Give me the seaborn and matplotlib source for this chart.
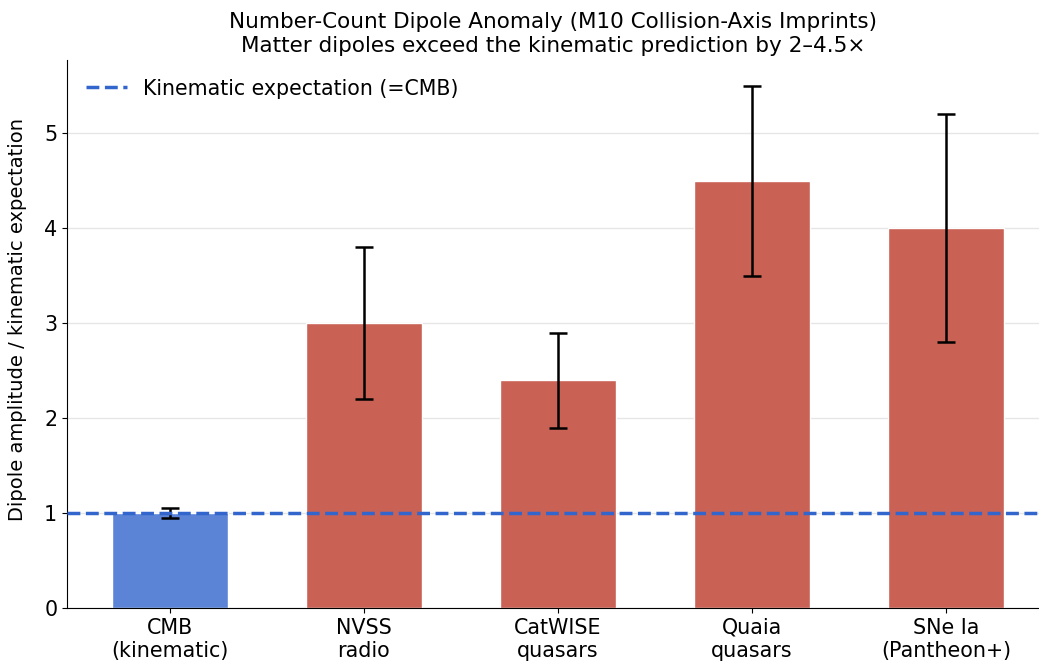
import numpy as np
import pandas as pd
from matplotlib import pyplot as plt

import seaborn as sns

samples = ["CMB\n(kinematic)", "NVSS\nradio", "CatWISE\nquasars", "Quaia\nquasars", "SNe Ia\n(Pantheon+)"]
ratio = [1.0, 3.0, 2.4, 4.5, 4.0]
ratio_err = [0.05, 0.8, 0.5, 1.0, 1.2]
bar_colors = ["#5b84d6", "#c96155", "#c96155", "#c96155", "#c96155"]
kinematic = 1.0

sns.set_style("ticks", {"axes.edgecolor": "black", "text.color": "black",
                        "xtick.color": "black", "ytick.color": "black",
                        "axes.labelcolor": "black"})
plt.rcParams["font.family"] = ["DejaVu Sans"]

fig = plt.figure(figsize=(10.39, 6.68), dpi=100)
ax = fig.add_axes([67 / 1039, 1 - 608 / 668, (1039 - 67) / 1039, (608 - 60) / 668])

df = pd.DataFrame({"sample": samples, "ratio": ratio})
sns.barplot(data=df, x="sample", y="ratio", hue="sample", palette=bar_colors,
            width=0.6, saturation=1, legend=False, ax=ax, zorder=2)
ax.errorbar(np.arange(len(samples)), ratio, yerr=ratio_err, fmt="none",
            ecolor="black", elinewidth=1.8, capsize=6.5, capthick=1.8, zorder=3)
ax.axhline(kinematic, color="#3366cc", ls="--", lw=2.5, zorder=4,
           label="Kinematic expectation (=CMB)")

ax.set_xlim(-0.53, 4.48)
ax.set_ylim(0, 5.77)
ax.grid(axis="y", color="#e6e6e6", lw=1, zorder=0)
ax.set_axisbelow(True)
sns.despine(ax=ax)
ax.set_xlabel("")
ax.set_ylabel("Dipole amplitude / kinematic expectation", fontsize=14)
ax.yaxis.set_label_coords(-0.041, 0.526)
ax.tick_params(labelsize=14.9)
ax.set_title("Number-Count Dipole Anomaly (M10 Collision-Axis Imprints)\n"
             "Matter dipoles exceed the kinematic prediction by 2\u20134.5\u00d7",
             fontsize=15.5)
ax.legend(loc="upper left", fontsize=14.8, frameon=False)

plt.savefig("out.png", dpi=100)
